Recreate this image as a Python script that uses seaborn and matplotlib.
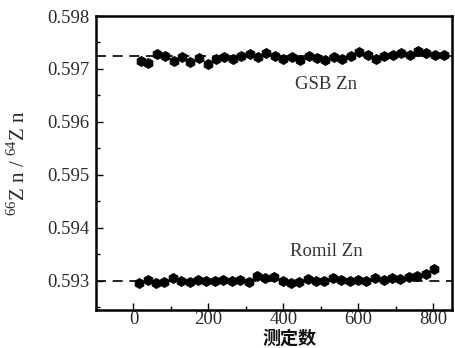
import matplotlib
matplotlib.use("Agg")
import matplotlib.pyplot as plt
import numpy as np
import pandas as pd
import seaborn as sns
from matplotlib.ticker import MultipleLocator, FormatStrFormatter

# measurement index for each run
GSB_X = [20, 40, 62, 85, 108, 130, 152, 175, 198, 220, 242, 265, 288, 310, 332,
         355, 378, 400, 422, 445, 468, 490, 512, 535, 558, 580, 602, 625, 648,
         670, 692, 715, 738, 760, 782, 805, 828]
GSB_Y = [0.59715, 0.59712, 0.59728, 0.59725, 0.59716, 0.59722, 0.59714, 0.59720,
         0.59710, 0.59718, 0.59722, 0.59719, 0.59724, 0.59728, 0.59722, 0.59730,
         0.59724, 0.59719, 0.59722, 0.59717, 0.59724, 0.59720, 0.59717, 0.59722,
         0.59719, 0.59724, 0.59732, 0.59727, 0.59719, 0.59724, 0.59727, 0.59731,
         0.59727, 0.59734, 0.59730, 0.59727, 0.59726]

ROMIL_X = [15, 38, 60, 82, 105, 128, 150, 172, 195, 218, 240, 262, 285, 308, 330,
           352, 375, 398, 420, 442, 465, 488, 510, 532, 555, 578, 600, 622, 645,
           668, 690, 712, 735, 758, 780, 803]
ROMIL_Y = [0.59297, 0.59302, 0.59296, 0.59298, 0.59305, 0.59300, 0.59298, 0.59301,
           0.59299, 0.59300, 0.59302, 0.59299, 0.59302, 0.59298, 0.59310, 0.59305,
           0.59308, 0.59300, 0.59296, 0.59298, 0.59304, 0.59299, 0.59300, 0.59305,
           0.59302, 0.59299, 0.59302, 0.59300, 0.59305, 0.59302, 0.59306, 0.59303,
           0.59308, 0.59310, 0.59314, 0.59322]

GSB_MEAN = 0.59725
ROMIL_MEAN = 0.59300
TEXT_COLOR = "#2a2a2a"


def main():
    sns.set_theme(style="ticks")
    plt.rcParams["font.family"] = ["Liberation Serif", "Noto Sans CJK SC"]
    plt.rcParams["mathtext.fontset"] = "custom"
    plt.rcParams["mathtext.rm"] = "Liberation Serif"

    df = pd.concat([
        pd.DataFrame({"n": GSB_X, "ratio": GSB_Y, "std": "GSB Zn"}),
        pd.DataFrame({"n": ROMIL_X, "ratio": ROMIL_Y, "std": "Romil Zn"}),
    ])

    fig = plt.figure(figsize=(4.55, 3.48), dpi=100)
    ax = fig.add_axes([0.211, 0.109, 0.782, 0.845])

    ax.axhline(GSB_MEAN, color="black", ls=(0, (6, 4)), lw=1.2, zorder=1)
    ax.axhline(ROMIL_MEAN, color="black", ls=(0, (6, 4)), lw=1.2, zorder=1)

    sns.scatterplot(data=df, x="n", y="ratio", ax=ax, marker="h", s=50,
                    color="black", edgecolor="black", linewidth=0.8,
                    legend=False, zorder=3)

    ax.set_xlim(-100, 850)
    ax.set_ylim(0.59245, 0.598)
    ax.xaxis.set_major_locator(MultipleLocator(200))
    ax.xaxis.set_minor_locator(MultipleLocator(100))
    ax.yaxis.set_major_locator(MultipleLocator(0.001))
    ax.yaxis.set_minor_locator(MultipleLocator(0.0005))
    ax.yaxis.set_major_formatter(FormatStrFormatter("%.3f"))
    ax.tick_params(which="both", direction="in", top=False, right=False,
                   color="black", labelcolor=TEXT_COLOR, labelsize=13.5)
    ax.tick_params(which="major", length=5, width=1)
    ax.tick_params(which="minor", length=3, width=1)
    ax.tick_params(axis="y", pad=5)
    ax.tick_params(axis="x", pad=1)
    for sp in ax.spines.values():
        sp.set_linewidth(1.8)
        sp.set_color("black")

    ax.set_xlabel("测定数", fontsize=13, family=["Noto Sans CJK SC"],
                  fontweight="bold", color="#111111")
    ax.xaxis.set_label_coords(0.545, -0.065)
    ax.set_ylabel(r"$^{66}$Z n / $^{64}$Z n", fontsize=15, color=TEXT_COLOR)
    ax.yaxis.set_label_coords(-0.185, 0.5)

    ax.text(515, 0.59670, "GSB Zn", fontsize=13.5, ha="center", va="center",
            color="#333333")
    ax.text(515, 0.59355, "Romil Zn", fontsize=13.5, ha="center", va="center",
            color="#333333")

    fig.savefig("out.png", dpi=100)


if __name__ == "__main__":
    main()
